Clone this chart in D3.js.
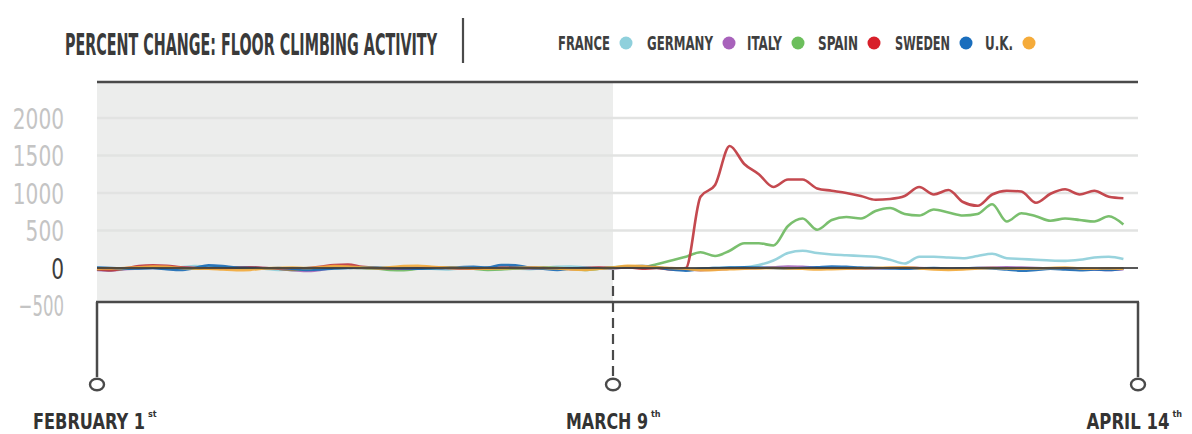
<!DOCTYPE html>
<html>
<head>
<meta charset="utf-8">
<script src="https://cdn.jsdelivr.net/npm/d3@7"></script>
<style>
  html, body { margin: 0; padding: 0; background: #ffffff; }
  svg { display: block; }
  text { font-family: "Liberation Sans Narrow", "DejaVu Sans Condensed", "Roboto", sans-serif; font-weight: bold; }
</style>
</head>
<body>
<svg id="chart" width="1192" height="434"></svg>
<script>
// Daily percent change in floor-climbing activity, Feb 1 – Apr 13, 2020
const countries = ["FRANCE", "GERMANY", "ITALY", "SPAIN", "SWEDEN", "U.K."];
const seriesColors = ["#8fcfda", "#a568bb", "#6fba62", "#bf3a40", "#1c6db5", "#f2aa3c"];
const legendDotColors = ["#8fd0dc", "#a862bb", "#6cbf5c", "#d81f2a", "#1a6ebd", "#f5ab3a"];

const franceValues = [0,-5,-10,-5,0,5,10,25,20,5, 0,-5,-10,-25,-20,0,5,10,5,0, -5,0,5,0,-10,-20,-5,0,5,0, -5,-15,0,15,20,5,0,
  0,10,5,0,-10,-20, -10,0,5,10,40,100, 200,230,200,180,170,160, 150,110,60,150,150,140, 130,160,190,130,120,110, 100,95,110,140,150,120];
const germanyValues = [-25,-35,-15,-5,0,-5,5,0,-10,-5, 0,5,0,-10,-30,-40,-25,0,5,0, -5,-10,-5,0,5,10,0,-10,-5,0, -5,-10,-5,0,-15,-10,0,
  0,10,15,5,-10,-20, -30,-20,-10,-5,0,10, 20,15,5,0,-5,-10, -5,0,5,0,-5,-10, -5,0,5,10,5,0, -5,-10,-15,-20,-25,-15];
const italyValues = [-20,-25,-10,0,5,0,-5,-10,-5,0, 5,0,-5,-10,-25,-20,-5,0,5,0, -5,-25,-30,-10,0,5,0,-10,-25,-20, -5,0,5,0,-10,-25,-10,
  10,20,10,50,100,150, 210,160,230,330,330,300, 560,660,510,640,680,660, 760,800,720,700,780,740, 700,720,850,620,730,690, 630,660,640,620,690,580];
const spainValues = [-15,-30,-5,25,35,30,10,0,-5,-10, 5,10,0,-10,-15,-5,15,40,45,15, 0,-5,-10,-5,5,0,-5,-10,0,5, 10,5,0,-10,-5,0,5,
  0,10,-10,0,-20,0, 950,1107,1627,1387,1250,1080, 1180,1180,1060,1030,1000,960, 910,920,960,1080,980,1040, 880,830,980,1030,1020,870, 990,1050,980,1030,950,930];
const swedenValues = [5,0,-10,-5,0,-15,-25,0,35,25, 5,0,-5,0,-10,-25,-20,-5,0,10, 5,0,-5,-10,-5,0,10,15,5,40, 35,5,-10,-25,-5,0,-5,
  0,20,25,10,-20,-35, -10,0,5,10,5,0, -5,0,10,20,15,5, 0,-5,-10,-5,0,-10, -5,0,-5,-20,-35,-25, -10,-20,-30,-20,-25,-5];
const ukValues = [-10,-5,0,10,20,15,0,-5,-10,-20, -30,-25,-5,0,5,0,10,25,20,5, 0,10,25,30,15,5,0,-5,-10,-5, 0,5,0,-5,-20,-25,-10,
  5,30,25,10,0,-10, -30,-25,-15,-10,-5,0, -5,-10,-20,-15,-10,-5, 0,5,10,-5,-20,-25, -20,-5,0,-5,-10,-5, 0,5,-5,-10,-5,-10];

const yTicks = [2000, 1500, 1000, 500, 0, -500];
const startDate = new Date(2020, 1, 1);
const pivotDate = new Date(2020, 2, 9);
const endDate = new Date(2020, 3, 14);
const milestoneDates = [startDate, pivotDate, endDate];
const milestoneLabels = ["FEBRUARY 1", "MARCH 9", "APRIL 14"];
const milestoneSuffixes = ["st", "th", "th"];

const dates = d3.timeDay.range(startDate, endDate);
const allValues = [franceValues, germanyValues, italyValues, spainValues, swedenValues, ukValues];

// ---- layout ----
const svg = d3.select("#chart");
const plotLeft = 97, plotRight = 1138, plotTop = 82, bracketY = 302;

const x = d3.scaleTime()
  .domain(milestoneDates)
  .range([plotLeft, 613, plotRight]);
const y = d3.scaleLinear()
  .domain([-500, 2000])
  .range([305.5, 118]);

const ink = "#4a4a4a";

// shaded period before the pivot date
svg.append("rect")
  .attr("x", x(startDate)).attr("y", plotTop)
  .attr("width", x(pivotDate) - x(startDate))
  .attr("height", bracketY - plotTop)
  .attr("fill", "#ecedec");

// horizontal grid
svg.append("g").selectAll("line")
  .data(yTicks.filter(d => d > 0))
  .join("line")
  .attr("x1", plotLeft).attr("x2", plotRight)
  .attr("y1", d => y(d)).attr("y2", d => y(d))
  .attr("stroke", "#e2e3e2").attr("stroke-width", 2.5);

// y tick labels
const yAxis = d3.axisLeft(y).tickValues(yTicks).tickFormat(d3.format("d")).tickSize(0).tickPadding(0);
const yG = svg.append("g").attr("transform", "translate(64,0)").call(yAxis);
yG.select(".domain").remove();
yG.selectAll("text")
  .attr("x", 0)
  .attr("dy", "0.36em")
  .attr("font-size", 29)
  .style("font-family", "'Liberation Sans Narrow', 'DejaVu Sans Condensed', sans-serif")
  .style("font-weight", "normal")
  .attr("fill", d => d === 0 ? "#3c3c3c" : "#c4c4c4")
  .attr("textLength", d => { const s = String(d); return s.replace("-", "").length * 12.8 + (s.startsWith("-") ? 7 : 0); })
  .attr("lengthAdjust", "spacingAndGlyphs");

// series lines
const line = d3.line()
  .x((d, i) => x(dates[i]))
  .y(d => y(d))
  .curve(d3.curveMonotoneX);

svg.append("g").selectAll("path")
  .data(allValues)
  .join("path")
  .attr("d", line)
  .attr("fill", "none")
  .attr("stroke", (d, i) => seriesColors[i])
  .attr("stroke-width", 2.6)
  .attr("stroke-linejoin", "round")
  .attr("opacity", 0.92);

// zero baseline
svg.append("line")
  .attr("x1", plotLeft).attr("x2", plotRight)
  .attr("y1", y(0)).attr("y2", y(0))
  .attr("stroke", "#3b3b3b").attr("stroke-width", 1.8).attr("opacity", 0.85);

// top rule
svg.append("line")
  .attr("x1", plotLeft).attr("x2", plotRight)
  .attr("y1", plotTop).attr("y2", plotTop)
  .attr("stroke", ink).attr("stroke-width", 2.5);

// bracket timeline below the plot
svg.append("line")
  .attr("x1", plotLeft - 1).attr("x2", plotRight + 1)
  .attr("y1", bracketY).attr("y2", bracketY)
  .attr("stroke", ink).attr("stroke-width", 2.5);

const stemBottom = 377;
[startDate, endDate].forEach(d => {
  svg.append("line")
    .attr("x1", x(d)).attr("x2", x(d))
    .attr("y1", bracketY).attr("y2", stemBottom)
    .attr("stroke", ink).attr("stroke-width", 2.5);
});
svg.append("line")
  .attr("x1", x(pivotDate)).attr("x2", x(pivotDate))
  .attr("y1", 270).attr("y2", stemBottom)
  .attr("stroke", ink).attr("stroke-width", 2.2)
  .attr("stroke-dasharray", "10,6");

svg.append("g").selectAll("ellipse")
  .data(milestoneDates)
  .join("ellipse")
  .attr("cx", d => x(d)).attr("cy", 384.5)
  .attr("rx", 7).attr("ry", 5.8)
  .attr("fill", "#fff").attr("stroke", ink).attr("stroke-width", 2.4);

// milestone date labels with ordinal suffixes
const labelWidths = [112, 82, 83];
const labelShift = [-2, 0, -4];
const labelG = svg.append("g");
milestoneDates.forEach((d, i) => {
  const total = labelWidths[i] + 12;
  const left = x(d) - total / 2 + labelShift[i];
  labelG.append("text")
    .attr("x", left).attr("y", 429)
    .attr("font-size", 22)
    .attr("fill", "#333")
    .attr("textLength", labelWidths[i])
    .attr("lengthAdjust", "spacingAndGlyphs")
    .text(milestoneLabels[i]);
  labelG.append("text")
    .attr("x", left + labelWidths[i] + 3).attr("y", 417)
    .attr("font-size", 9)
    .attr("fill", "#333")
    .text(milestoneSuffixes[i]);
});

// title
svg.append("text")
  .attr("x", 65).attr("y", 55)
  .attr("font-size", 30)
  .attr("fill", "#3a3a3a")
  .attr("textLength", 372)
  .attr("lengthAdjust", "spacingAndGlyphs")
  .text("PERCENT CHANGE: FLOOR CLIMBING ACTIVITY");

svg.append("line")
  .attr("x1", 463).attr("x2", 463)
  .attr("y1", 18).attr("y2", 63)
  .attr("stroke", ink).attr("stroke-width", 2.2);

// legend
const legendTextX = [558, 647, 747, 818, 895, 985];
const legendTextW = [52, 66, 35, 40, 55, 28];
const legendG = svg.append("g");
countries.forEach((c, i) => {
  legendG.append("text")
    .attr("x", legendTextX[i]).attr("y", 50)
    .attr("font-size", 19)
    .attr("fill", "#3f3f3f")
    .attr("textLength", legendTextW[i])
    .attr("lengthAdjust", "spacingAndGlyphs")
    .text(c);
  legendG.append("circle")
    .attr("cx", legendTextX[i] + legendTextW[i] + 16).attr("cy", 43)
    .attr("r", 6.5)
    .attr("fill", legendDotColors[i]);
});
</script>
</body>
</html>
